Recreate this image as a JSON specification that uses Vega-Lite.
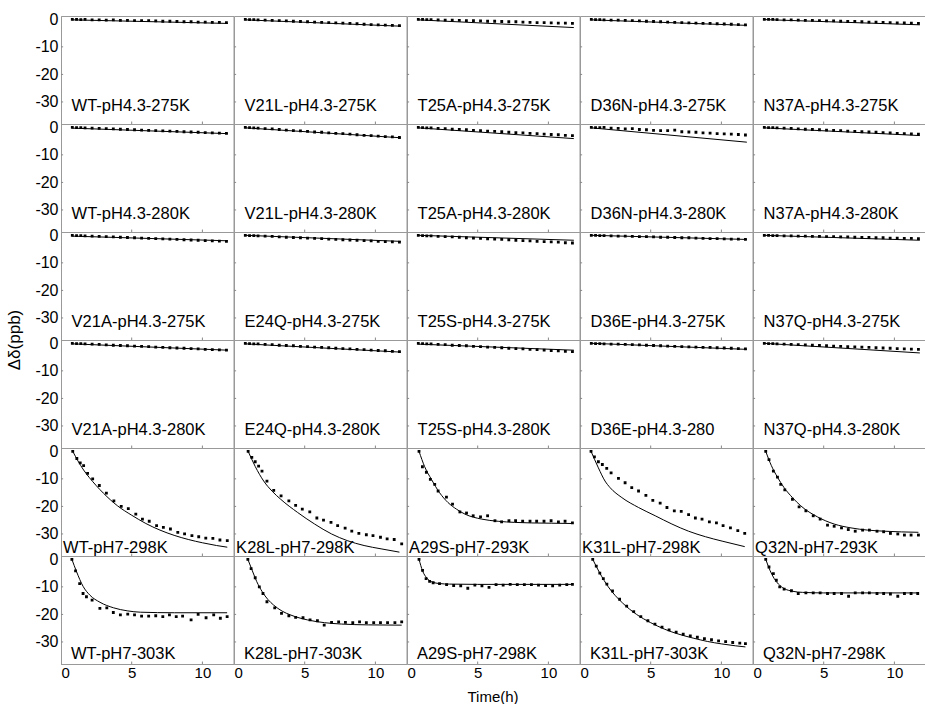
{
"$schema":"https://vega.github.io/schema/vega-lite/v6.json",
"background":"white",
"padding":{"left":5,"top":11,"right":0,"bottom":0},
"bounds":"flush",
"data":{"values":[
{"r":0,"c":0,"t":"WT-pH4.3-275K"},{"r":0,"c":1,"t":"V21L-pH4.3-275K"},{"r":0,"c":2,"t":"T25A-pH4.3-275K"},{"r":0,"c":3,"t":"D36N-pH4.3-275K"},{"r":0,"c":4,"t":"N37A-pH4.3-275K"},
{"r":1,"c":0,"t":"WT-pH4.3-280K"},{"r":1,"c":1,"t":"V21L-pH4.3-280K"},{"r":1,"c":2,"t":"T25A-pH4.3-280K"},{"r":1,"c":3,"t":"D36N-pH4.3-280K"},{"r":1,"c":4,"t":"N37A-pH4.3-280K"},
{"r":2,"c":0,"t":"V21A-pH4.3-275K"},{"r":2,"c":1,"t":"E24Q-pH4.3-275K"},{"r":2,"c":2,"t":"T25S-pH4.3-275K"},{"r":2,"c":3,"t":"D36E-pH4.3-275K"},{"r":2,"c":4,"t":"N37Q-pH4.3-275K"},
{"r":3,"c":0,"t":"V21A-pH4.3-280K"},{"r":3,"c":1,"t":"E24Q-pH4.3-280K"},{"r":3,"c":2,"t":"T25S-pH4.3-280K"},{"r":3,"c":3,"t":"D36E-pH4.3-280"},{"r":3,"c":4,"t":"N37Q-pH4.3-280K"},
{"r":4,"c":0,"t":"WT-pH7-298K"},{"r":4,"c":1,"t":"K28L-pH7-298K"},{"r":4,"c":2,"t":"A29S-pH7-293K"},{"r":4,"c":3,"t":"K31L-pH7-298K"},{"r":4,"c":4,"t":"Q32N-pH7-293K"},
{"r":5,"c":0,"t":"WT-pH7-303K"},{"r":5,"c":1,"t":"K28L-pH7-303K"},{"r":5,"c":2,"t":"A29S-pH7-298K"},{"r":5,"c":3,"t":"K31L-pH7-303K"},{"r":5,"c":4,"t":"Q32N-pH7-298K"},

{"r":0,"c":0,"x":0.8,"f":-0.2},{"r":0,"c":0,"x":11.8,"f":-1.5},
{"r":0,"c":1,"x":0.8,"f":-0.2},{"r":0,"c":1,"x":11.8,"f":-2.5},
{"r":0,"c":2,"x":0.8,"f":-0.2},{"r":0,"c":2,"x":11.8,"f":-3},
{"r":0,"c":3,"x":0.8,"f":-0.2},{"r":0,"c":3,"x":11.8,"f":-2.2},
{"r":0,"c":4,"x":0.8,"f":-0.1},{"r":0,"c":4,"x":11.8,"f":-2},
{"r":1,"c":0,"x":0.8,"f":-0.3},{"r":1,"c":0,"x":11.8,"f":-2.3},
{"r":1,"c":1,"x":0.8,"f":-0.2},{"r":1,"c":1,"x":11.8,"f":-3.8},
{"r":1,"c":2,"x":0.8,"f":-0.2},{"r":1,"c":2,"x":11.8,"f":-4.1},
{"r":1,"c":3,"x":0.8,"f":-0.2},{"r":1,"c":3,"x":11.8,"f":-5.4},
{"r":1,"c":4,"x":0.8,"f":-0.2},{"r":1,"c":4,"x":11.8,"f":-3},
{"r":2,"c":0,"x":0.8,"f":-0.3},{"r":2,"c":0,"x":11.8,"f":-2},
{"r":2,"c":1,"x":0.8,"f":0},{"r":2,"c":1,"x":11.8,"f":-2.2},
{"r":2,"c":2,"x":0.8,"f":0},{"r":2,"c":2,"x":11.8,"f":-1.8},
{"r":2,"c":3,"x":0.8,"f":0},{"r":2,"c":3,"x":11.8,"f":-1.5},
{"r":2,"c":4,"x":0.8,"f":0},{"r":2,"c":4,"x":11.8,"f":-1.8},
{"r":3,"c":0,"x":0.8,"f":-0.2},{"r":3,"c":0,"x":11.8,"f":-2.5},
{"r":3,"c":1,"x":0.8,"f":-0.2},{"r":3,"c":1,"x":11.8,"f":-3.2},
{"r":3,"c":2,"x":0.8,"f":-0.3},{"r":3,"c":2,"x":11.8,"f":-2.5},
{"r":3,"c":3,"x":0.8,"f":0},{"r":3,"c":3,"x":11.8,"f":-2.2},
{"r":3,"c":4,"x":0.8,"f":0},{"r":3,"c":4,"x":11.8,"f":-3.5},

{"r":0,"c":0,"x":0.8,"y":0},{"r":0,"c":0,"x":1.1,"y":0},{"r":0,"c":0,"x":1.4,"y":-0.1},{"r":0,"c":0,"x":1.7,"y":0},{"r":0,"c":0,"x":2.2,"y":-0.2},{"r":0,"c":0,"x":2.7,"y":-0.2},{"r":0,"c":0,"x":3.2,"y":-0.3},{"r":0,"c":0,"x":3.7,"y":-0.2},{"r":0,"c":0,"x":4.2,"y":-0.4},{"r":0,"c":0,"x":4.7,"y":-0.4},{"r":0,"c":0,"x":5.2,"y":-0.5},{"r":0,"c":0,"x":5.7,"y":-0.5},{"r":0,"c":0,"x":6.2,"y":-0.5},{"r":0,"c":0,"x":6.7,"y":-0.6},{"r":0,"c":0,"x":7.2,"y":-0.7},{"r":0,"c":0,"x":7.7,"y":-0.7},{"r":0,"c":0,"x":8.2,"y":-0.8},{"r":0,"c":0,"x":8.7,"y":-0.9},{"r":0,"c":0,"x":9.2,"y":-0.9},{"r":0,"c":0,"x":9.7,"y":-1},{"r":0,"c":0,"x":10.2,"y":-1},{"r":0,"c":0,"x":10.7,"y":-1.1},{"r":0,"c":0,"x":11.2,"y":-1.1},{"r":0,"c":0,"x":11.7,"y":-1.2},
{"r":0,"c":1,"x":0.8,"y":0},{"r":0,"c":1,"x":1.1,"y":-0.1},{"r":0,"c":1,"x":1.4,"y":-0.1},{"r":0,"c":1,"x":1.7,"y":-0.2},{"r":0,"c":1,"x":2.2,"y":-0.3},{"r":0,"c":1,"x":2.7,"y":-0.4},{"r":0,"c":1,"x":3.2,"y":-0.5},{"r":0,"c":1,"x":3.7,"y":-0.6},{"r":0,"c":1,"x":4.2,"y":-0.7},{"r":0,"c":1,"x":4.7,"y":-0.8},{"r":0,"c":1,"x":5.2,"y":-0.9},{"r":0,"c":1,"x":5.7,"y":-1},{"r":0,"c":1,"x":6.2,"y":-1.1},{"r":0,"c":1,"x":6.7,"y":-1.2},{"r":0,"c":1,"x":7.2,"y":-1.3},{"r":0,"c":1,"x":7.7,"y":-1.4},{"r":0,"c":1,"x":8.2,"y":-1.5},{"r":0,"c":1,"x":8.7,"y":-1.6},{"r":0,"c":1,"x":9.2,"y":-1.8},{"r":0,"c":1,"x":9.7,"y":-1.9},{"r":0,"c":1,"x":10.2,"y":-2},{"r":0,"c":1,"x":10.7,"y":-2.1},{"r":0,"c":1,"x":11.2,"y":-2.2},{"r":0,"c":1,"x":11.7,"y":-2.3},
{"r":0,"c":2,"x":0.8,"y":0},{"r":0,"c":2,"x":1.1,"y":0},{"r":0,"c":2,"x":1.4,"y":-0.1},{"r":0,"c":2,"x":1.7,"y":-0.1},{"r":0,"c":2,"x":2.2,"y":-0.2},{"r":0,"c":2,"x":2.7,"y":-0.3},{"r":0,"c":2,"x":3.2,"y":-0.3},{"r":0,"c":2,"x":3.7,"y":-0.4},{"r":0,"c":2,"x":4.2,"y":-0.5},{"r":0,"c":2,"x":4.7,"y":-0.5},{"r":0,"c":2,"x":5.2,"y":-0.6},{"r":0,"c":2,"x":5.7,"y":-0.7},{"r":0,"c":2,"x":6.2,"y":-0.7},{"r":0,"c":2,"x":6.7,"y":-0.8},{"r":0,"c":2,"x":7.2,"y":-0.9},{"r":0,"c":2,"x":7.7,"y":-0.9},{"r":0,"c":2,"x":8.2,"y":-1},{"r":0,"c":2,"x":8.7,"y":-1.1},{"r":0,"c":2,"x":9.2,"y":-1.2},{"r":0,"c":2,"x":9.7,"y":-1.2},{"r":0,"c":2,"x":10.2,"y":-1.3},{"r":0,"c":2,"x":10.7,"y":-1.4},{"r":0,"c":2,"x":11.2,"y":-1.4},{"r":0,"c":2,"x":11.7,"y":-1.5},
{"r":0,"c":3,"x":0.8,"y":0},{"r":0,"c":3,"x":1.1,"y":-0.1},{"r":0,"c":3,"x":1.4,"y":-0.1},{"r":0,"c":3,"x":1.7,"y":-0.2},{"r":0,"c":3,"x":2.2,"y":-0.3},{"r":0,"c":3,"x":2.7,"y":-0.3},{"r":0,"c":3,"x":3.2,"y":-0.4},{"r":0,"c":3,"x":3.7,"y":-0.5},{"r":0,"c":3,"x":4.2,"y":-0.6},{"r":0,"c":3,"x":4.7,"y":-0.7},{"r":0,"c":3,"x":5.2,"y":-0.8},{"r":0,"c":3,"x":5.7,"y":-0.9},{"r":0,"c":3,"x":6.2,"y":-1},{"r":0,"c":3,"x":6.7,"y":-1.1},{"r":0,"c":3,"x":7.2,"y":-1.2},{"r":0,"c":3,"x":7.7,"y":-1.3},{"r":0,"c":3,"x":8.2,"y":-1.4},{"r":0,"c":3,"x":8.7,"y":-1.5},{"r":0,"c":3,"x":9.2,"y":-1.5},{"r":0,"c":3,"x":9.7,"y":-1.6},{"r":0,"c":3,"x":10.2,"y":-1.7},{"r":0,"c":3,"x":10.7,"y":-1.8},{"r":0,"c":3,"x":11.2,"y":-1.9},{"r":0,"c":3,"x":11.7,"y":-2},
{"r":0,"c":4,"x":0.8,"y":0},{"r":0,"c":4,"x":1.1,"y":0},{"r":0,"c":4,"x":1.4,"y":0},{"r":0,"c":4,"x":1.7,"y":-0.1},{"r":0,"c":4,"x":2.2,"y":-0.2},{"r":0,"c":4,"x":2.7,"y":-0.2},{"r":0,"c":4,"x":3.2,"y":-0.3},{"r":0,"c":4,"x":3.7,"y":-0.4},{"r":0,"c":4,"x":4.2,"y":-0.4},{"r":0,"c":4,"x":4.7,"y":-0.5},{"r":0,"c":4,"x":5.2,"y":-0.6},{"r":0,"c":4,"x":5.7,"y":-0.6},{"r":0,"c":4,"x":6.2,"y":-0.7},{"r":0,"c":4,"x":6.7,"y":-0.8},{"r":0,"c":4,"x":7.2,"y":-0.8},{"r":0,"c":4,"x":7.7,"y":-0.9},{"r":0,"c":4,"x":8.2,"y":-1},{"r":0,"c":4,"x":8.7,"y":-1},{"r":0,"c":4,"x":9.2,"y":-1.1},{"r":0,"c":4,"x":9.7,"y":-1.2},{"r":0,"c":4,"x":10.2,"y":-1.3},{"r":0,"c":4,"x":10.7,"y":-1.3},{"r":0,"c":4,"x":11.2,"y":-1.4},{"r":0,"c":4,"x":11.7,"y":-1.5},
{"r":1,"c":0,"x":0.8,"y":0},{"r":1,"c":0,"x":1.1,"y":-0.1},{"r":1,"c":0,"x":1.4,"y":-0.1},{"r":1,"c":0,"x":1.7,"y":-0.2},{"r":1,"c":0,"x":2.2,"y":-0.3},{"r":1,"c":0,"x":2.7,"y":-0.4},{"r":1,"c":0,"x":3.2,"y":-0.5},{"r":1,"c":0,"x":3.7,"y":-0.6},{"r":1,"c":0,"x":4.2,"y":-0.7},{"r":1,"c":0,"x":4.7,"y":-0.8},{"r":1,"c":0,"x":5.2,"y":-0.9},{"r":1,"c":0,"x":5.7,"y":-1},{"r":1,"c":0,"x":6.2,"y":-1.1},{"r":1,"c":0,"x":6.7,"y":-1.2},{"r":1,"c":0,"x":7.2,"y":-1.3},{"r":1,"c":0,"x":7.7,"y":-1.4},{"r":1,"c":0,"x":8.2,"y":-1.5},{"r":1,"c":0,"x":8.7,"y":-1.6},{"r":1,"c":0,"x":9.2,"y":-1.7},{"r":1,"c":0,"x":9.7,"y":-1.8},{"r":1,"c":0,"x":10.2,"y":-1.9},{"r":1,"c":0,"x":10.7,"y":-2},{"r":1,"c":0,"x":11.2,"y":-2.1},{"r":1,"c":0,"x":11.7,"y":-2.2},
{"r":1,"c":1,"x":0.8,"y":0},{"r":1,"c":1,"x":1.1,"y":-0.1},{"r":1,"c":1,"x":1.4,"y":-0.2},{"r":1,"c":1,"x":1.7,"y":-0.3},{"r":1,"c":1,"x":2.2,"y":-0.5},{"r":1,"c":1,"x":2.7,"y":-0.6},{"r":1,"c":1,"x":3.2,"y":-0.8},{"r":1,"c":1,"x":3.7,"y":-1},{"r":1,"c":1,"x":4.2,"y":-1.2},{"r":1,"c":1,"x":4.7,"y":-1.3},{"r":1,"c":1,"x":5.2,"y":-1.5},{"r":1,"c":1,"x":5.7,"y":-1.7},{"r":1,"c":1,"x":6.2,"y":-1.8},{"r":1,"c":1,"x":6.7,"y":-2},{"r":1,"c":1,"x":7.2,"y":-2.2},{"r":1,"c":1,"x":7.7,"y":-2.3},{"r":1,"c":1,"x":8.2,"y":-2.5},{"r":1,"c":1,"x":8.7,"y":-2.7},{"r":1,"c":1,"x":9.2,"y":-2.9},{"r":1,"c":1,"x":9.7,"y":-3},{"r":1,"c":1,"x":10.2,"y":-3.2},{"r":1,"c":1,"x":10.7,"y":-3.4},{"r":1,"c":1,"x":11.2,"y":-3.5},{"r":1,"c":1,"x":11.7,"y":-3.7},
{"r":1,"c":2,"x":0.8,"y":0},{"r":1,"c":2,"x":1.1,"y":-0.1},{"r":1,"c":2,"x":1.4,"y":-0.2},{"r":1,"c":2,"x":1.7,"y":-0.2},{"r":1,"c":2,"x":2.2,"y":-0.4},{"r":1,"c":2,"x":2.7,"y":-0.5},{"r":1,"c":2,"x":3.2,"y":-0.7},{"r":1,"c":2,"x":3.7,"y":-0.8},{"r":1,"c":2,"x":4.2,"y":-0.9},{"r":1,"c":2,"x":4.7,"y":-1.1},{"r":1,"c":2,"x":5.2,"y":-1.2},{"r":1,"c":2,"x":5.7,"y":-1.4},{"r":1,"c":2,"x":6.2,"y":-1.5},{"r":1,"c":2,"x":6.7,"y":-1.6},{"r":1,"c":2,"x":7.2,"y":-1.8},{"r":1,"c":2,"x":7.7,"y":-1.9},{"r":1,"c":2,"x":8.2,"y":-2},{"r":1,"c":2,"x":8.7,"y":-2.2},{"r":1,"c":2,"x":9.2,"y":-2.3},{"r":1,"c":2,"x":9.7,"y":-2.5},{"r":1,"c":2,"x":10.2,"y":-2.6},{"r":1,"c":2,"x":10.7,"y":-2.7},{"r":1,"c":2,"x":11.2,"y":-2.9},{"r":1,"c":2,"x":11.7,"y":-3},
{"r":1,"c":3,"x":0.8,"y":0},{"r":1,"c":3,"x":1.1,"y":-0.1},{"r":1,"c":3,"x":1.4,"y":-0.1},{"r":1,"c":3,"x":1.7,"y":0},{"r":1,"c":3,"x":2.2,"y":-0.3},{"r":1,"c":3,"x":2.7,"y":-0.4},{"r":1,"c":3,"x":3.2,"y":-0.6},{"r":1,"c":3,"x":3.7,"y":-0.5},{"r":1,"c":3,"x":4.2,"y":-0.8},{"r":1,"c":3,"x":4.7,"y":-0.9},{"r":1,"c":3,"x":5.2,"y":-1.1},{"r":1,"c":3,"x":5.7,"y":-1.2},{"r":1,"c":3,"x":6.2,"y":-1.2},{"r":1,"c":3,"x":6.7,"y":-1},{"r":1,"c":3,"x":7.2,"y":-1.6},{"r":1,"c":3,"x":7.7,"y":-1.7},{"r":1,"c":3,"x":8.2,"y":-1.8},{"r":1,"c":3,"x":8.7,"y":-2},{"r":1,"c":3,"x":9.2,"y":-2.1},{"r":1,"c":3,"x":9.7,"y":-2.3},{"r":1,"c":3,"x":10.2,"y":-2.4},{"r":1,"c":3,"x":10.7,"y":-2.5},{"r":1,"c":3,"x":11.2,"y":-2.6},{"r":1,"c":3,"x":11.7,"y":-2.8},
{"r":1,"c":4,"x":0.8,"y":0},{"r":1,"c":4,"x":1.1,"y":-0.1},{"r":1,"c":4,"x":1.4,"y":-0.1},{"r":1,"c":4,"x":1.7,"y":-0.2},{"r":1,"c":4,"x":2.2,"y":-0.3},{"r":1,"c":4,"x":2.7,"y":-0.4},{"r":1,"c":4,"x":3.2,"y":-0.6},{"r":1,"c":4,"x":3.7,"y":-0.7},{"r":1,"c":4,"x":4.2,"y":-0.8},{"r":1,"c":4,"x":4.7,"y":-0.9},{"r":1,"c":4,"x":5.2,"y":-1},{"r":1,"c":4,"x":5.7,"y":-1.1},{"r":1,"c":4,"x":6.2,"y":-1.2},{"r":1,"c":4,"x":6.7,"y":-1.4},{"r":1,"c":4,"x":7.2,"y":-1.5},{"r":1,"c":4,"x":7.7,"y":-1.6},{"r":1,"c":4,"x":8.2,"y":-1.7},{"r":1,"c":4,"x":8.7,"y":-1.8},{"r":1,"c":4,"x":9.2,"y":-1.9},{"r":1,"c":4,"x":9.7,"y":-2},{"r":1,"c":4,"x":10.2,"y":-2.2},{"r":1,"c":4,"x":10.7,"y":-2.3},{"r":1,"c":4,"x":11.2,"y":-2.4},{"r":1,"c":4,"x":11.7,"y":-2.5},
{"r":2,"c":0,"x":0.8,"y":0},{"r":2,"c":0,"x":1.1,"y":-0.1},{"r":2,"c":0,"x":1.4,"y":-0.1},{"r":2,"c":0,"x":1.7,"y":-0.2},{"r":2,"c":0,"x":2.2,"y":-0.3},{"r":2,"c":0,"x":2.7,"y":-0.4},{"r":2,"c":0,"x":3.2,"y":-0.5},{"r":2,"c":0,"x":3.7,"y":-0.6},{"r":2,"c":0,"x":4.2,"y":-0.7},{"r":2,"c":0,"x":4.7,"y":-0.8},{"r":2,"c":0,"x":5.2,"y":-0.9},{"r":2,"c":0,"x":5.7,"y":-1},{"r":2,"c":0,"x":6.2,"y":-1.1},{"r":2,"c":0,"x":6.7,"y":-1.2},{"r":2,"c":0,"x":7.2,"y":-1.3},{"r":2,"c":0,"x":7.7,"y":-1.4},{"r":2,"c":0,"x":8.2,"y":-1.5},{"r":2,"c":0,"x":8.7,"y":-1.6},{"r":2,"c":0,"x":9.2,"y":-1.7},{"r":2,"c":0,"x":9.7,"y":-1.8},{"r":2,"c":0,"x":10.2,"y":-1.9},{"r":2,"c":0,"x":10.7,"y":-2},{"r":2,"c":0,"x":11.2,"y":-2.1},{"r":2,"c":0,"x":11.7,"y":-2.2},
{"r":2,"c":1,"x":0.8,"y":0},{"r":2,"c":1,"x":1.1,"y":-0.1},{"r":2,"c":1,"x":1.4,"y":-0.1},{"r":2,"c":1,"x":1.7,"y":-0.2},{"r":2,"c":1,"x":2.2,"y":-0.3},{"r":2,"c":1,"x":2.7,"y":-0.4},{"r":2,"c":1,"x":3.2,"y":-0.6},{"r":2,"c":1,"x":3.7,"y":-0.7},{"r":2,"c":1,"x":4.2,"y":-0.8},{"r":2,"c":1,"x":4.7,"y":-0.9},{"r":2,"c":1,"x":5.2,"y":-1},{"r":2,"c":1,"x":5.7,"y":-1.1},{"r":2,"c":1,"x":6.2,"y":-1.2},{"r":2,"c":1,"x":6.7,"y":-1.4},{"r":2,"c":1,"x":7.2,"y":-1.5},{"r":2,"c":1,"x":7.7,"y":-1.6},{"r":2,"c":1,"x":8.2,"y":-1.7},{"r":2,"c":1,"x":8.7,"y":-1.8},{"r":2,"c":1,"x":9.2,"y":-1.9},{"r":2,"c":1,"x":9.7,"y":-2},{"r":2,"c":1,"x":10.2,"y":-2.2},{"r":2,"c":1,"x":10.7,"y":-2.3},{"r":2,"c":1,"x":11.2,"y":-2.4},{"r":2,"c":1,"x":11.7,"y":-2.5},
{"r":2,"c":2,"x":0.8,"y":0},{"r":2,"c":2,"x":1.1,"y":-0.1},{"r":2,"c":2,"x":1.4,"y":-0.2},{"r":2,"c":2,"x":1.7,"y":-0.2},{"r":2,"c":2,"x":2.2,"y":-0.4},{"r":2,"c":2,"x":2.7,"y":-0.5},{"r":2,"c":2,"x":3.2,"y":-0.6},{"r":2,"c":2,"x":3.7,"y":-0.7},{"r":2,"c":2,"x":4.2,"y":-0.9},{"r":2,"c":2,"x":4.7,"y":-1},{"r":2,"c":2,"x":5.2,"y":-1.1},{"r":2,"c":2,"x":5.7,"y":-1.3},{"r":2,"c":2,"x":6.2,"y":-1.4},{"r":2,"c":2,"x":6.7,"y":-1.5},{"r":2,"c":2,"x":7.2,"y":-1.6},{"r":2,"c":2,"x":7.7,"y":-1.8},{"r":2,"c":2,"x":8.2,"y":-1.9},{"r":2,"c":2,"x":8.7,"y":-2},{"r":2,"c":2,"x":9.2,"y":-2.2},{"r":2,"c":2,"x":9.7,"y":-2.3},{"r":2,"c":2,"x":10.2,"y":-2.4},{"r":2,"c":2,"x":10.7,"y":-2.5},{"r":2,"c":2,"x":11.2,"y":-2.7},{"r":2,"c":2,"x":11.7,"y":-2.8},
{"r":2,"c":3,"x":0.8,"y":0},{"r":2,"c":3,"x":1.1,"y":0},{"r":2,"c":3,"x":1.4,"y":-0.1},{"r":2,"c":3,"x":1.7,"y":-0.1},{"r":2,"c":3,"x":2.2,"y":-0.2},{"r":2,"c":3,"x":2.7,"y":-0.3},{"r":2,"c":3,"x":3.2,"y":-0.3},{"r":2,"c":3,"x":3.7,"y":-0.4},{"r":2,"c":3,"x":4.2,"y":-0.5},{"r":2,"c":3,"x":4.7,"y":-0.5},{"r":2,"c":3,"x":5.2,"y":-0.6},{"r":2,"c":3,"x":5.7,"y":-0.7},{"r":2,"c":3,"x":6.2,"y":-0.7},{"r":2,"c":3,"x":6.7,"y":-0.8},{"r":2,"c":3,"x":7.2,"y":-0.9},{"r":2,"c":3,"x":7.7,"y":-0.9},{"r":2,"c":3,"x":8.2,"y":-1},{"r":2,"c":3,"x":8.7,"y":-1.1},{"r":2,"c":3,"x":9.2,"y":-1.2},{"r":2,"c":3,"x":9.7,"y":-1.2},{"r":2,"c":3,"x":10.2,"y":-1.3},{"r":2,"c":3,"x":10.7,"y":-1.4},{"r":2,"c":3,"x":11.2,"y":-1.4},{"r":2,"c":3,"x":11.7,"y":-1.5},
{"r":2,"c":4,"x":0.8,"y":0},{"r":2,"c":4,"x":1.1,"y":0},{"r":2,"c":4,"x":1.4,"y":-0.1},{"r":2,"c":4,"x":1.7,"y":-0.1},{"r":2,"c":4,"x":2.2,"y":-0.2},{"r":2,"c":4,"x":2.7,"y":-0.2},{"r":2,"c":4,"x":3.2,"y":-0.3},{"r":2,"c":4,"x":3.7,"y":-0.3},{"r":2,"c":4,"x":4.2,"y":-0.4},{"r":2,"c":4,"x":4.7,"y":-0.4},{"r":2,"c":4,"x":5.2,"y":-0.5},{"r":2,"c":4,"x":5.7,"y":-0.5},{"r":2,"c":4,"x":6.2,"y":-0.6},{"r":2,"c":4,"x":6.7,"y":-0.6},{"r":2,"c":4,"x":7.2,"y":-0.7},{"r":2,"c":4,"x":7.7,"y":-0.8},{"r":2,"c":4,"x":8.2,"y":-0.8},{"r":2,"c":4,"x":8.7,"y":-0.9},{"r":2,"c":4,"x":9.2,"y":-0.9},{"r":2,"c":4,"x":9.7,"y":-1},{"r":2,"c":4,"x":10.2,"y":-1},{"r":2,"c":4,"x":10.7,"y":-1.1},{"r":2,"c":4,"x":11.2,"y":-1.1},{"r":2,"c":4,"x":11.7,"y":-1.2},
{"r":3,"c":0,"x":0.8,"y":0},{"r":3,"c":0,"x":1.1,"y":-0.1},{"r":3,"c":0,"x":1.4,"y":-0.1},{"r":3,"c":0,"x":1.7,"y":-0.2},{"r":3,"c":0,"x":2.2,"y":-0.3},{"r":3,"c":0,"x":2.7,"y":-0.4},{"r":3,"c":0,"x":3.2,"y":-0.6},{"r":3,"c":0,"x":3.7,"y":-0.7},{"r":3,"c":0,"x":4.2,"y":-0.8},{"r":3,"c":0,"x":4.7,"y":-0.9},{"r":3,"c":0,"x":5.2,"y":-1},{"r":3,"c":0,"x":5.7,"y":-1.1},{"r":3,"c":0,"x":6.2,"y":-1.2},{"r":3,"c":0,"x":6.7,"y":-1.4},{"r":3,"c":0,"x":7.2,"y":-1.5},{"r":3,"c":0,"x":7.7,"y":-1.6},{"r":3,"c":0,"x":8.2,"y":-1.7},{"r":3,"c":0,"x":8.7,"y":-1.8},{"r":3,"c":0,"x":9.2,"y":-1.9},{"r":3,"c":0,"x":9.7,"y":-2},{"r":3,"c":0,"x":10.2,"y":-2.2},{"r":3,"c":0,"x":10.7,"y":-2.3},{"r":3,"c":0,"x":11.2,"y":-2.4},{"r":3,"c":0,"x":11.7,"y":-2.5},
{"r":3,"c":1,"x":0.8,"y":0},{"r":3,"c":1,"x":1.1,"y":-0.1},{"r":3,"c":1,"x":1.4,"y":-0.2},{"r":3,"c":1,"x":1.7,"y":-0.2},{"r":3,"c":1,"x":2.2,"y":-0.4},{"r":3,"c":1,"x":2.7,"y":-0.5},{"r":3,"c":1,"x":3.2,"y":-0.7},{"r":3,"c":1,"x":3.7,"y":-0.8},{"r":3,"c":1,"x":4.2,"y":-0.9},{"r":3,"c":1,"x":4.7,"y":-1.1},{"r":3,"c":1,"x":5.2,"y":-1.2},{"r":3,"c":1,"x":5.7,"y":-1.4},{"r":3,"c":1,"x":6.2,"y":-1.5},{"r":3,"c":1,"x":6.7,"y":-1.6},{"r":3,"c":1,"x":7.2,"y":-1.8},{"r":3,"c":1,"x":7.7,"y":-1.9},{"r":3,"c":1,"x":8.2,"y":-2},{"r":3,"c":1,"x":8.7,"y":-2.2},{"r":3,"c":1,"x":9.2,"y":-2.3},{"r":3,"c":1,"x":9.7,"y":-2.5},{"r":3,"c":1,"x":10.2,"y":-2.6},{"r":3,"c":1,"x":10.7,"y":-2.7},{"r":3,"c":1,"x":11.2,"y":-2.9},{"r":3,"c":1,"x":11.7,"y":-3},
{"r":3,"c":2,"x":0.8,"y":0},{"r":3,"c":2,"x":1.1,"y":-0.1},{"r":3,"c":2,"x":1.4,"y":-0.2},{"r":3,"c":2,"x":1.7,"y":-0.2},{"r":3,"c":2,"x":2.2,"y":-0.4},{"r":3,"c":2,"x":2.7,"y":-0.5},{"r":3,"c":2,"x":3.2,"y":-0.7},{"r":3,"c":2,"x":3.7,"y":-0.8},{"r":3,"c":2,"x":4.2,"y":-0.9},{"r":3,"c":2,"x":4.7,"y":-1.1},{"r":3,"c":2,"x":5.2,"y":-1.2},{"r":3,"c":2,"x":5.7,"y":-1.4},{"r":3,"c":2,"x":6.2,"y":-1.5},{"r":3,"c":2,"x":6.7,"y":-1.6},{"r":3,"c":2,"x":7.2,"y":-1.8},{"r":3,"c":2,"x":7.7,"y":-1.9},{"r":3,"c":2,"x":8.2,"y":-2},{"r":3,"c":2,"x":8.7,"y":-2.2},{"r":3,"c":2,"x":9.2,"y":-2.3},{"r":3,"c":2,"x":9.7,"y":-2.5},{"r":3,"c":2,"x":10.2,"y":-2.6},{"r":3,"c":2,"x":10.7,"y":-2.7},{"r":3,"c":2,"x":11.2,"y":-2.9},{"r":3,"c":2,"x":11.7,"y":-3},
{"r":3,"c":3,"x":0.8,"y":0},{"r":3,"c":3,"x":1.1,"y":-0.1},{"r":3,"c":3,"x":1.4,"y":-0.1},{"r":3,"c":3,"x":1.7,"y":-0.2},{"r":3,"c":3,"x":2.2,"y":-0.3},{"r":3,"c":3,"x":2.7,"y":-0.3},{"r":3,"c":3,"x":3.2,"y":-0.4},{"r":3,"c":3,"x":3.7,"y":-0.5},{"r":3,"c":3,"x":4.2,"y":-0.6},{"r":3,"c":3,"x":4.7,"y":-0.7},{"r":3,"c":3,"x":5.2,"y":-0.8},{"r":3,"c":3,"x":5.7,"y":-0.9},{"r":3,"c":3,"x":6.2,"y":-1},{"r":3,"c":3,"x":6.7,"y":-1.1},{"r":3,"c":3,"x":7.2,"y":-1.2},{"r":3,"c":3,"x":7.7,"y":-1.3},{"r":3,"c":3,"x":8.2,"y":-1.4},{"r":3,"c":3,"x":8.7,"y":-1.5},{"r":3,"c":3,"x":9.2,"y":-1.5},{"r":3,"c":3,"x":9.7,"y":-1.6},{"r":3,"c":3,"x":10.2,"y":-1.7},{"r":3,"c":3,"x":10.7,"y":-1.8},{"r":3,"c":3,"x":11.2,"y":-1.9},{"r":3,"c":3,"x":11.7,"y":-2},
{"r":3,"c":4,"x":0.8,"y":0},{"r":3,"c":4,"x":1.1,"y":-0.1},{"r":3,"c":4,"x":1.4,"y":-0.1},{"r":3,"c":4,"x":1.7,"y":-0.2},{"r":3,"c":4,"x":2.2,"y":-0.3},{"r":3,"c":4,"x":2.7,"y":-0.4},{"r":3,"c":4,"x":3.2,"y":-0.5},{"r":3,"c":4,"x":3.7,"y":-0.6},{"r":3,"c":4,"x":4.2,"y":-0.7},{"r":3,"c":4,"x":4.7,"y":-0.8},{"r":3,"c":4,"x":5.2,"y":-0.9},{"r":3,"c":4,"x":5.7,"y":-1},{"r":3,"c":4,"x":6.2,"y":-1.1},{"r":3,"c":4,"x":6.7,"y":-1.2},{"r":3,"c":4,"x":7.2,"y":-1.3},{"r":3,"c":4,"x":7.7,"y":-1.4},{"r":3,"c":4,"x":8.2,"y":-1.5},{"r":3,"c":4,"x":8.7,"y":-1.6},{"r":3,"c":4,"x":9.2,"y":-1.7},{"r":3,"c":4,"x":9.7,"y":-1.8},{"r":3,"c":4,"x":10.2,"y":-1.9},{"r":3,"c":4,"x":10.7,"y":-2},{"r":3,"c":4,"x":11.2,"y":-2.1},{"r":3,"c":4,"x":11.7,"y":-2.2},

{"r":4,"c":0,"x":0.83,"y":0},{"r":4,"c":0,"x":1.12,"y":-2.6},{"r":4,"c":0,"x":1.36,"y":-4.2},{"r":4,"c":0,"x":1.6,"y":-5.2},{"r":4,"c":0,"x":1.88,"y":-8},{"r":4,"c":0,"x":2.24,"y":-10},{"r":4,"c":0,"x":2.71,"y":-12.4},{"r":4,"c":0,"x":3.21,"y":-15.2},{"r":4,"c":0,"x":3.74,"y":-18},{"r":4,"c":0,"x":4.26,"y":-20},{"r":4,"c":0,"x":4.76,"y":-20.8},{"r":4,"c":0,"x":5.29,"y":-22.8},{"r":4,"c":0,"x":5.76,"y":-24.6},{"r":4,"c":0,"x":6.24,"y":-25.4},{"r":4,"c":0,"x":6.76,"y":-27},{"r":4,"c":0,"x":7.24,"y":-27.6},{"r":4,"c":0,"x":7.74,"y":-28.2},{"r":4,"c":0,"x":8.26,"y":-29.4},{"r":4,"c":0,"x":8.74,"y":-30},{"r":4,"c":0,"x":9.26,"y":-30.6},{"r":4,"c":0,"x":9.74,"y":-31},{"r":4,"c":0,"x":10.24,"y":-31.5},{"r":4,"c":0,"x":10.74,"y":-31.6},{"r":4,"c":0,"x":11.24,"y":-32.2},{"r":4,"c":0,"x":11.76,"y":-32.4},
{"r":4,"c":0,"x":0.83,"f":0},{"r":4,"c":0,"x":1.2,"f":-3.5},{"r":4,"c":0,"x":1.6,"f":-6.8},{"r":4,"c":0,"x":2,"f":-9.5},{"r":4,"c":0,"x":2.5,"f":-12.5},{"r":4,"c":0,"x":3,"f":-15.2},{"r":4,"c":0,"x":4,"f":-19.8},{"r":4,"c":0,"x":5,"f":-23.2},{"r":4,"c":0,"x":6,"f":-26.2},{"r":4,"c":0,"x":7,"f":-28.6},{"r":4,"c":0,"x":8,"f":-30.5},{"r":4,"c":0,"x":9,"f":-32},{"r":4,"c":0,"x":10,"f":-33.2},{"r":4,"c":0,"x":11,"f":-34.2},{"r":4,"c":0,"x":11.76,"f":-34.8},
{"r":4,"c":1,"x":1,"y":0},{"r":4,"c":1,"x":1.26,"y":-2.2},{"r":4,"c":1,"x":1.5,"y":-3.8},{"r":4,"c":1,"x":1.74,"y":-5.4},{"r":4,"c":1,"x":1.98,"y":-7.2},{"r":4,"c":1,"x":2.33,"y":-10.8},{"r":4,"c":1,"x":2.81,"y":-14.2},{"r":4,"c":1,"x":3.33,"y":-16.2},{"r":4,"c":1,"x":3.88,"y":-18},{"r":4,"c":1,"x":4.36,"y":-19.6},{"r":4,"c":1,"x":4.83,"y":-21},{"r":4,"c":1,"x":5.36,"y":-22},{"r":4,"c":1,"x":5.86,"y":-24.2},{"r":4,"c":1,"x":6.33,"y":-25},{"r":4,"c":1,"x":6.86,"y":-25.8},{"r":4,"c":1,"x":7.33,"y":-27},{"r":4,"c":1,"x":7.86,"y":-27.9},{"r":4,"c":1,"x":8.33,"y":-29},{"r":4,"c":1,"x":8.83,"y":-29.8},{"r":4,"c":1,"x":9.36,"y":-30.3},{"r":4,"c":1,"x":9.83,"y":-30.6},{"r":4,"c":1,"x":10.36,"y":-31.2},{"r":4,"c":1,"x":10.83,"y":-31.8},{"r":4,"c":1,"x":11.33,"y":-32},{"r":4,"c":1,"x":11.86,"y":-33.6},
{"r":4,"c":1,"x":1,"f":0},{"r":4,"c":1,"x":1.5,"f":-5.5},{"r":4,"c":1,"x":2.1,"f":-10.8},{"r":4,"c":1,"x":2.7,"f":-14.5},{"r":4,"c":1,"x":3.3,"f":-17.4},{"r":4,"c":1,"x":4.5,"f":-22.2},{"r":4,"c":1,"x":5.7,"f":-26.4},{"r":4,"c":1,"x":6.9,"f":-30},{"r":4,"c":1,"x":8,"f":-32.4},{"r":4,"c":1,"x":9.2,"f":-34.2},{"r":4,"c":1,"x":10.4,"f":-35.4},{"r":4,"c":1,"x":11.7,"f":-36.6},
{"r":4,"c":2,"x":0.85,"y":0},{"r":4,"c":2,"x":1.09,"y":-5.6},{"r":4,"c":2,"x":1.37,"y":-7.6},{"r":4,"c":2,"x":1.65,"y":-10.2},{"r":4,"c":2,"x":1.96,"y":-12},{"r":4,"c":2,"x":2.2,"y":-14.4},{"r":4,"c":2,"x":2.79,"y":-16.6},{"r":4,"c":2,"x":3.22,"y":-19.2},{"r":4,"c":2,"x":3.74,"y":-22},{"r":4,"c":2,"x":4.21,"y":-22.4},{"r":4,"c":2,"x":4.68,"y":-23.4},{"r":4,"c":2,"x":5.2,"y":-23.8},{"r":4,"c":2,"x":5.7,"y":-23.4},{"r":4,"c":2,"x":6.22,"y":-25.2},{"r":4,"c":2,"x":6.69,"y":-25.6},{"r":4,"c":2,"x":7.21,"y":-25.2},{"r":4,"c":2,"x":7.68,"y":-25.2},{"r":4,"c":2,"x":8.18,"y":-25.4},{"r":4,"c":2,"x":8.7,"y":-25.4},{"r":4,"c":2,"x":9.17,"y":-25.4},{"r":4,"c":2,"x":9.69,"y":-25.4},{"r":4,"c":2,"x":10.19,"y":-25.2},{"r":4,"c":2,"x":10.71,"y":-25.6},{"r":4,"c":2,"x":11.18,"y":-25.4},{"r":4,"c":2,"x":11.7,"y":-26},
{"r":4,"c":2,"x":0.85,"f":0},{"r":4,"c":2,"x":1.25,"f":-5.6},{"r":4,"c":2,"x":1.73,"f":-10.2},{"r":4,"c":2,"x":2.3,"f":-15},{"r":4,"c":2,"x":2.9,"f":-18.6},{"r":4,"c":2,"x":3.5,"f":-21},{"r":4,"c":2,"x":4.1,"f":-22.8},{"r":4,"c":2,"x":5.27,"f":-24.6},{"r":4,"c":2,"x":6.45,"f":-25.4},{"r":4,"c":2,"x":7.6,"f":-25.8},{"r":4,"c":2,"x":8.8,"f":-26},{"r":4,"c":2,"x":10.2,"f":-26.1},{"r":4,"c":2,"x":11.7,"f":-26.2},
{"r":4,"c":3,"x":0.78,"y":0},{"r":4,"c":3,"x":1.02,"y":-2},{"r":4,"c":3,"x":1.3,"y":-3.8},{"r":4,"c":3,"x":1.58,"y":-4.8},{"r":4,"c":3,"x":1.89,"y":-6.2},{"r":4,"c":3,"x":2.2,"y":-7.8},{"r":4,"c":3,"x":2.72,"y":-9.8},{"r":4,"c":3,"x":3.19,"y":-11.4},{"r":4,"c":3,"x":3.66,"y":-13.2},{"r":4,"c":3,"x":4.14,"y":-14.4},{"r":4,"c":3,"x":4.66,"y":-16},{"r":4,"c":3,"x":5.15,"y":-17.8},{"r":4,"c":3,"x":5.67,"y":-18.8},{"r":4,"c":3,"x":6.15,"y":-20.4},{"r":4,"c":3,"x":6.67,"y":-21.6},{"r":4,"c":3,"x":7.16,"y":-21.8},{"r":4,"c":3,"x":7.68,"y":-23},{"r":4,"c":3,"x":8.16,"y":-24.2},{"r":4,"c":3,"x":8.63,"y":-24.6},{"r":4,"c":3,"x":9.15,"y":-25.6},{"r":4,"c":3,"x":9.65,"y":-26},{"r":4,"c":3,"x":10.12,"y":-27},{"r":4,"c":3,"x":10.64,"y":-27.8},{"r":4,"c":3,"x":11.16,"y":-28.8},{"r":4,"c":3,"x":11.65,"y":-29.8},
{"r":4,"c":3,"x":0.78,"f":0},{"r":4,"c":3,"x":1.3,"f":-6},{"r":4,"c":3,"x":1.77,"f":-10.8},{"r":4,"c":3,"x":2.13,"f":-13.2},{"r":4,"c":3,"x":2.96,"f":-16.8},{"r":4,"c":3,"x":4.14,"f":-20.4},{"r":4,"c":3,"x":5.32,"f":-23.4},{"r":4,"c":3,"x":6.5,"f":-26.4},{"r":4,"c":3,"x":7.68,"f":-29},{"r":4,"c":3,"x":8.87,"f":-31},{"r":4,"c":3,"x":10.05,"f":-32.6},{"r":4,"c":3,"x":11.65,"f":-34.6},
{"r":4,"c":4,"x":0.9,"y":0},{"r":4,"c":4,"x":1.13,"y":-3},{"r":4,"c":4,"x":1.44,"y":-7.2},{"r":4,"c":4,"x":1.73,"y":-9.4},{"r":4,"c":4,"x":1.96,"y":-12},{"r":4,"c":4,"x":2.25,"y":-14},{"r":4,"c":4,"x":2.79,"y":-17.4},{"r":4,"c":4,"x":3.26,"y":-20.2},{"r":4,"c":4,"x":3.74,"y":-21.6},{"r":4,"c":4,"x":4.26,"y":-23.4},{"r":4,"c":4,"x":4.75,"y":-24.6},{"r":4,"c":4,"x":5.27,"y":-26.8},{"r":4,"c":4,"x":5.74,"y":-27.2},{"r":4,"c":4,"x":6.26,"y":-27.8},{"r":4,"c":4,"x":6.74,"y":-28.4},{"r":4,"c":4,"x":7.23,"y":-29},{"r":4,"c":4,"x":7.75,"y":-28.6},{"r":4,"c":4,"x":8.23,"y":-28.6},{"r":4,"c":4,"x":8.77,"y":-29},{"r":4,"c":4,"x":9.24,"y":-29.2},{"r":4,"c":4,"x":9.72,"y":-29.8},{"r":4,"c":4,"x":10.24,"y":-30},{"r":4,"c":4,"x":10.71,"y":-30.4},{"r":4,"c":4,"x":11.18,"y":-30.4},{"r":4,"c":4,"x":11.7,"y":-30.4},
{"r":4,"c":4,"x":0.9,"f":0},{"r":4,"c":4,"x":1.3,"f":-5.2},{"r":4,"c":4,"x":1.73,"f":-9.4},{"r":4,"c":4,"x":2.2,"f":-13.2},{"r":4,"c":4,"x":2.79,"f":-16.8},{"r":4,"c":4,"x":3.38,"f":-19.8},{"r":4,"c":4,"x":4.56,"f":-23.8},{"r":4,"c":4,"x":5.74,"f":-26.4},{"r":4,"c":4,"x":6.93,"f":-27.8},{"r":4,"c":4,"x":8.1,"f":-28.6},{"r":4,"c":4,"x":9.3,"f":-29},{"r":4,"c":4,"x":11.7,"f":-29.4},

{"r":5,"c":0,"x":0.77,"y":0},{"r":5,"c":0,"x":1.03,"y":-4.2},{"r":5,"c":0,"x":1.32,"y":-8.8},{"r":5,"c":0,"x":1.56,"y":-12.4},{"r":5,"c":0,"x":1.8,"y":-13.6},{"r":5,"c":0,"x":2.2,"y":-14.8},{"r":5,"c":0,"x":2.75,"y":-17.8},{"r":5,"c":0,"x":3.24,"y":-17.6},{"r":5,"c":0,"x":3.7,"y":-19.3},{"r":5,"c":0,"x":4.2,"y":-20.2},{"r":5,"c":0,"x":4.72,"y":-19.9},{"r":5,"c":0,"x":5.2,"y":-20.2},{"r":5,"c":0,"x":5.7,"y":-20.6},{"r":5,"c":0,"x":6.2,"y":-20.6},{"r":5,"c":0,"x":6.7,"y":-20.5},{"r":5,"c":0,"x":7.2,"y":-20.8},{"r":5,"c":0,"x":7.67,"y":-20.2},{"r":5,"c":0,"x":8.15,"y":-20.8},{"r":5,"c":0,"x":8.6,"y":-20.6},{"r":5,"c":0,"x":9.2,"y":-22},{"r":5,"c":0,"x":9.7,"y":-20},{"r":5,"c":0,"x":10.26,"y":-21.2},{"r":5,"c":0,"x":10.8,"y":-20.2},{"r":5,"c":0,"x":11.27,"y":-21.4},{"r":5,"c":0,"x":11.75,"y":-20.8},
{"r":5,"c":0,"x":0.77,"f":0},{"r":5,"c":0,"x":1.1,"f":-4.5},{"r":5,"c":0,"x":1.56,"f":-9.8},{"r":5,"c":0,"x":2.04,"f":-13},{"r":5,"c":0,"x":2.76,"f":-15.6},{"r":5,"c":0,"x":3.71,"f":-17.6},{"r":5,"c":0,"x":4.68,"f":-18.7},{"r":5,"c":0,"x":5.63,"f":-19.2},{"r":5,"c":0,"x":8.03,"f":-19.4},{"r":5,"c":0,"x":11.75,"f":-19.4},
{"r":5,"c":1,"x":0.98,"y":0},{"r":5,"c":1,"x":1.21,"y":-3.4},{"r":5,"c":1,"x":1.5,"y":-6.7},{"r":5,"c":1,"x":1.79,"y":-10},{"r":5,"c":1,"x":2.05,"y":-12.4},{"r":5,"c":1,"x":2.33,"y":-15.4},{"r":5,"c":1,"x":2.88,"y":-17.6},{"r":5,"c":1,"x":3.36,"y":-19.6},{"r":5,"c":1,"x":3.88,"y":-20.5},{"r":5,"c":1,"x":4.36,"y":-21.1},{"r":5,"c":1,"x":4.88,"y":-21.2},{"r":5,"c":1,"x":5.38,"y":-22},{"r":5,"c":1,"x":5.9,"y":-22.3},{"r":5,"c":1,"x":6.38,"y":-23.9},{"r":5,"c":1,"x":6.9,"y":-22.9},{"r":5,"c":1,"x":7.4,"y":-22.7},{"r":5,"c":1,"x":7.88,"y":-22.9},{"r":5,"c":1,"x":8.4,"y":-23},{"r":5,"c":1,"x":8.88,"y":-22.7},{"r":5,"c":1,"x":9.36,"y":-23},{"r":5,"c":1,"x":9.88,"y":-23},{"r":5,"c":1,"x":10.36,"y":-23},{"r":5,"c":1,"x":10.86,"y":-23},{"r":5,"c":1,"x":11.38,"y":-23},{"r":5,"c":1,"x":11.86,"y":-22.7},
{"r":5,"c":1,"x":0.98,"f":0},{"r":5,"c":1,"x":1.3,"f":-4.2},{"r":5,"c":1,"x":1.6,"f":-8},{"r":5,"c":1,"x":2,"f":-11.8},{"r":5,"c":1,"x":2.4,"f":-14.6},{"r":5,"c":1,"x":2.8,"f":-16.6},{"r":5,"c":1,"x":3.4,"f":-18.8},{"r":5,"c":1,"x":4,"f":-20.2},{"r":5,"c":1,"x":5.2,"f":-22},{"r":5,"c":1,"x":6.4,"f":-23},{"r":5,"c":1,"x":7.6,"f":-23.5},{"r":5,"c":1,"x":9.5,"f":-23.8},{"r":5,"c":1,"x":11.86,"f":-23.9},
{"r":5,"c":2,"x":0.85,"y":0},{"r":5,"c":2,"x":1.1,"y":-4},{"r":5,"c":2,"x":1.35,"y":-7},{"r":5,"c":2,"x":1.6,"y":-8},{"r":5,"c":2,"x":1.85,"y":-8.5},{"r":5,"c":2,"x":2.3,"y":-8.8},{"r":5,"c":2,"x":2.8,"y":-9.2},{"r":5,"c":2,"x":3.3,"y":-9.5},{"r":5,"c":2,"x":3.8,"y":-9.6},{"r":5,"c":2,"x":4.3,"y":-10.5},{"r":5,"c":2,"x":4.8,"y":-9.4},{"r":5,"c":2,"x":5.3,"y":-9.6},{"r":5,"c":2,"x":5.8,"y":-10.2},{"r":5,"c":2,"x":6.3,"y":-9.2},{"r":5,"c":2,"x":6.8,"y":-9.4},{"r":5,"c":2,"x":7.3,"y":-9.1},{"r":5,"c":2,"x":7.8,"y":-9.2},{"r":5,"c":2,"x":8.3,"y":-9.2},{"r":5,"c":2,"x":8.8,"y":-9.2},{"r":5,"c":2,"x":9.3,"y":-9.4},{"r":5,"c":2,"x":9.8,"y":-9.5},{"r":5,"c":2,"x":10.3,"y":-9.6},{"r":5,"c":2,"x":10.8,"y":-9.4},{"r":5,"c":2,"x":11.3,"y":-9.2},{"r":5,"c":2,"x":11.7,"y":-9.1},
{"r":5,"c":2,"x":0.85,"f":0},{"r":5,"c":2,"x":1.1,"f":-4.2},{"r":5,"c":2,"x":1.4,"f":-6.8},{"r":5,"c":2,"x":1.8,"f":-8.3},{"r":5,"c":2,"x":2.3,"f":-8.8},{"r":5,"c":2,"x":3,"f":-9},{"r":5,"c":2,"x":5,"f":-9.1},{"r":5,"c":2,"x":11.7,"f":-9.1},
{"r":5,"c":3,"x":0.9,"y":0},{"r":5,"c":3,"x":1.15,"y":-2.5},{"r":5,"c":3,"x":1.4,"y":-5},{"r":5,"c":3,"x":1.65,"y":-7},{"r":5,"c":3,"x":1.9,"y":-9},{"r":5,"c":3,"x":2.3,"y":-11.5},{"r":5,"c":3,"x":2.8,"y":-14.5},{"r":5,"c":3,"x":3.3,"y":-17},{"r":5,"c":3,"x":3.8,"y":-19},{"r":5,"c":3,"x":4.3,"y":-20.8},{"r":5,"c":3,"x":4.8,"y":-22.3},{"r":5,"c":3,"x":5.3,"y":-23.5},{"r":5,"c":3,"x":5.8,"y":-24.6},{"r":5,"c":3,"x":6.3,"y":-25.6},{"r":5,"c":3,"x":6.8,"y":-26.4},{"r":5,"c":3,"x":7.3,"y":-27.2},{"r":5,"c":3,"x":7.8,"y":-27.8},{"r":5,"c":3,"x":8.3,"y":-28.3},{"r":5,"c":3,"x":8.8,"y":-28.8},{"r":5,"c":3,"x":9.3,"y":-29.2},{"r":5,"c":3,"x":9.8,"y":-29.6},{"r":5,"c":3,"x":10.3,"y":-29.9},{"r":5,"c":3,"x":10.8,"y":-30.2},{"r":5,"c":3,"x":11.3,"y":-30.4},{"r":5,"c":3,"x":11.7,"y":-30.6},
{"r":5,"c":3,"x":0.9,"f":0},{"r":5,"c":3,"x":1.4,"f":-5},{"r":5,"c":3,"x":2,"f":-10},{"r":5,"c":3,"x":3,"f":-15.8},{"r":5,"c":3,"x":4,"f":-20},{"r":5,"c":3,"x":5,"f":-23},{"r":5,"c":3,"x":6,"f":-25.4},{"r":5,"c":3,"x":7,"f":-27.2},{"r":5,"c":3,"x":8,"f":-28.6},{"r":5,"c":3,"x":9,"f":-29.8},{"r":5,"c":3,"x":10,"f":-30.7},{"r":5,"c":3,"x":11,"f":-31.4},{"r":5,"c":3,"x":11.7,"f":-31.8},
{"r":5,"c":4,"x":0.9,"y":0},{"r":5,"c":4,"x":1.13,"y":-2.8},{"r":5,"c":4,"x":1.44,"y":-5.2},{"r":5,"c":4,"x":1.65,"y":-7.6},{"r":5,"c":4,"x":1.89,"y":-10},{"r":5,"c":4,"x":2.2,"y":-10.8},{"r":5,"c":4,"x":2.72,"y":-11.4},{"r":5,"c":4,"x":3.2,"y":-12.4},{"r":5,"c":4,"x":3.74,"y":-12.2},{"r":5,"c":4,"x":4.26,"y":-12.2},{"r":5,"c":4,"x":4.75,"y":-12.2},{"r":5,"c":4,"x":5.27,"y":-12.4},{"r":5,"c":4,"x":5.74,"y":-12.4},{"r":5,"c":4,"x":6.26,"y":-12.4},{"r":5,"c":4,"x":6.76,"y":-13.4},{"r":5,"c":4,"x":7.23,"y":-12.2},{"r":5,"c":4,"x":7.75,"y":-12.2},{"r":5,"c":4,"x":8.23,"y":-12.2},{"r":5,"c":4,"x":8.77,"y":-12.4},{"r":5,"c":4,"x":9.24,"y":-12.4},{"r":5,"c":4,"x":9.72,"y":-12.6},{"r":5,"c":4,"x":10.24,"y":-13.4},{"r":5,"c":4,"x":10.71,"y":-12.4},{"r":5,"c":4,"x":11.18,"y":-12.4},{"r":5,"c":4,"x":11.65,"y":-12.4},
{"r":5,"c":4,"x":0.9,"f":0},{"r":5,"c":4,"x":1.2,"f":-4},{"r":5,"c":4,"x":1.5,"f":-7},{"r":5,"c":4,"x":1.8,"f":-9},{"r":5,"c":4,"x":2.2,"f":-10.6},{"r":5,"c":4,"x":2.8,"f":-11.6},{"r":5,"c":4,"x":3.5,"f":-12},{"r":5,"c":4,"x":5,"f":-12.2},{"r":5,"c":4,"x":11.7,"f":-12.2}
]},
"facet":{
  "row":{"field":"r","type":"ordinal","header":{"labels":false,"labelPadding":0,"title":"Δδ(ppb)","titleFontSize":17,"titleFontWeight":"normal","titleFont":"Liberation Sans","titleColor":"black","titlePadding":0}},
  "column":{"field":"c","type":"ordinal","header":{"labels":false,"labelPadding":0,"title":"Time(h)","titleOrient":"bottom","titleFontSize":15,"titleFontWeight":"normal","titleFont":"Liberation Sans","titleColor":"black","titlePadding":0}}
},
"spacing":{"row":0,"column":0},
"spec":{
  "width":172.5,"height":108,
  "layer":[
    {"transform":[{"filter":"isValid(datum.f)"}],
     "mark":{"type":"line","color":"black","strokeWidth":1,"interpolate":"monotone","clip":true},
     "encoding":{
       "x":{"field":"x","type":"quantitative","scale":{"domain":[0,12.2],"nice":false,"zero":false},"axis":{"values":[0,5,10],"tickCount":10,"title":null,"grid":false,"labelFontSize":15,"labelFont":"Liberation Sans","labelColor":"black","ticks":false,"labelPadding":1,"domainColor":"#888","labelOverlap":false,"labelExpr":"'' + datum.value"}},
       "y":{"field":"f","type":"quantitative","scale":{"domain":[-38,1.2],"nice":false,"zero":false},"axis":{"values":[-30,-20,-10,0],"tickCount":10,"title":null,"grid":false,"labelFontSize":16,"labelFont":"Liberation Sans","labelColor":"black","ticks":false,"labelPadding":3,"domainColor":"#888","labelOverlap":false,"labelBound":false,"labelExpr":"'' + datum.value"}}}},
    {"transform":[{"filter":"isValid(datum.y)"}],
     "mark":{"type":"square","color":"black","size":8,"opacity":1,"clip":true},
     "encoding":{
       "x":{"field":"x","type":"quantitative","axis":{"values":[0,5,10],"tickCount":10,"title":null,"grid":false,"labelFontSize":15,"labelFont":"Liberation Sans","labelColor":"black","ticks":false,"labelPadding":1,"domainColor":"#888","labelOverlap":false,"labelExpr":"'' + datum.value"}},
       "y":{"field":"y","type":"quantitative","axis":{"values":[-30,-20,-10,0],"tickCount":10,"title":null,"grid":false,"labelFontSize":16,"labelFont":"Liberation Sans","labelColor":"black","ticks":false,"labelPadding":3,"domainColor":"#888","labelOverlap":false,"labelBound":false,"labelExpr":"'' + datum.value"}}}},
    {"transform":[{"filter":"isValid(datum.t)"}],
     "mark":{"type":"rule","color":"#888","strokeWidth":1},
     "encoding":{"x":{"datum":5},"y":{"datum":-38},"y2":{"datum":-37.1}}},
    {"transform":[{"filter":"isValid(datum.t)"}],
     "mark":{"type":"rule","color":"#888","strokeWidth":1},
     "encoding":{"x":{"datum":10},"y":{"datum":-38},"y2":{"datum":-37.1}}},
    {"transform":[{"filter":"isValid(datum.t)"}],
     "mark":{"type":"rule","color":"#888","strokeWidth":1},
     "encoding":{"y":{"datum":-10},"x":{"datum":0},"x2":{"datum":0.15}}},
    {"transform":[{"filter":"isValid(datum.t)"}],
     "mark":{"type":"rule","color":"#888","strokeWidth":1},
     "encoding":{"y":{"datum":-20},"x":{"datum":0},"x2":{"datum":0.15}}},
    {"transform":[{"filter":"isValid(datum.t)"}],
     "mark":{"type":"rule","color":"#888","strokeWidth":1},
     "encoding":{"y":{"datum":-30},"x":{"datum":0},"x2":{"datum":0.15}}},
    {"transform":[{"filter":"isValid(datum.t) && datum.r < 4"}],
     "mark":{"type":"text","align":"left","baseline":"middle","fontSize":16.5,"font":"Liberation Sans","color":"black"},
     "encoding":{"x":{"datum":0.75},"y":{"datum":-31.5},"text":{"field":"t"}}},
    {"transform":[{"filter":"isValid(datum.t) && datum.r == 4"}],
     "mark":{"type":"text","align":"left","baseline":"middle","fontSize":16.5,"font":"Liberation Sans","color":"black"},
     "encoding":{"x":{"datum":0.15},"y":{"datum":-35},"text":{"field":"t"}}},
    {"transform":[{"filter":"isValid(datum.t) && datum.r == 5"}],
     "mark":{"type":"text","align":"left","baseline":"middle","fontSize":16.5,"font":"Liberation Sans","color":"black"},
     "encoding":{"x":{"datum":0.7},"y":{"datum":-34.5},"text":{"field":"t"}}}
  ]
},
"config":{"font":"Liberation Sans","view":{"stroke":"#999","strokeWidth":1},"axis":{"domainColor":"#888","labelOverlap":false}}
}
